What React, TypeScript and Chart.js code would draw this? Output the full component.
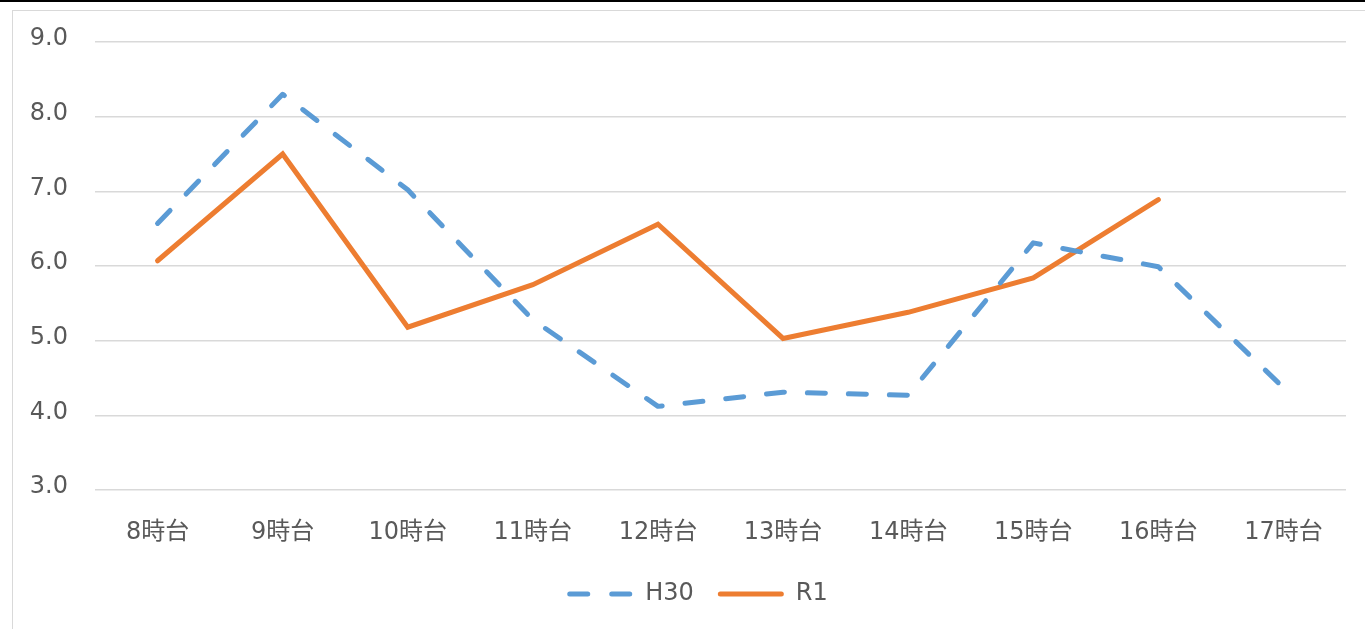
import React, { useEffect, useRef } from "react";
import { Chart, registerables } from "chart.js";

Chart.register(...registerables);

const categories = ["8時台", "9時台", "10時台", "11時台", "12時台", "13時台", "14時台", "15時台", "16時台", "17時台"];
const h30Values = [6.57, 8.3, 7.02, 5.28, 4.12, 4.31, 4.27, 6.31, 5.99, 4.37];
const r1Values: (number | null)[] = [6.07, 7.5, 5.18, 5.75, 6.56, 5.03, 5.38, 5.84, 6.89, null];
const seriesNames = ["H30", "R1"];
const yMin = 3;
const yMax = 9;

const FONT = "'DejaVu Sans', 'Noto Sans CJK JP', sans-serif";
const TEXT = "#595959";
const BLUE = "#5B9BD5";
const ORANGE = "#ED7D31";
const FS = 24;

const legendPlugin = {
  id: "customLegend",
  afterDraw(chart: any) {
    const ctx = chart.ctx;
    const items = chart.data.datasets.map((d: any) => ({
      label: d.label,
      color: d.borderColor,
      dash: d.borderDash || [],
    }));
    ctx.save();
    ctx.font = `${FS}px ${FONT}`;
    const lineW = 66;
    const gap = 12;
    const itemGap = 24;
    let total = 0;
    items.forEach((it: any, i: number) => {
      total += lineW + gap + ctx.measureText(it.label).width + (i < items.length - 1 ? itemGap : 0);
    });
    let x = chart.width / 2 - total / 2;
    const y = 584;
    items.forEach((it: any) => {
      ctx.beginPath();
      ctx.strokeStyle = it.color;
      ctx.lineWidth = 5;
      ctx.lineCap = "round";
      ctx.setLineDash(it.dash.length ? [18, 24] : []);
      ctx.moveTo(x + 2.5, y);
      ctx.lineTo(x + lineW - 2.5, y);
      ctx.stroke();
      ctx.setLineDash([]);
      x += lineW + gap;
      ctx.fillStyle = TEXT;
      ctx.textBaseline = "middle";
      ctx.textAlign = "left";
      ctx.fillText(it.label, x, y);
      x += ctx.measureText(it.label).width + itemGap;
    });
    ctx.restore();
  },
};

export default function App() {
  const canvasRef = useRef<HTMLCanvasElement | null>(null);

  useEffect(() => {
    document.body.style.margin = "0";
    const canvas = canvasRef.current;
    if (!canvas) return;
    const chart = new Chart(canvas, {
      type: "line",
      data: {
        labels: categories,
        datasets: [
          {
            label: seriesNames[0],
            data: h30Values,
            borderColor: BLUE,
            backgroundColor: BLUE,
            borderWidth: 5,
            borderDash: [18, 23],
            borderCapStyle: "round",
            borderJoinStyle: "round",
            pointRadius: 0,
            tension: 0,
            fill: false,
          },
          {
            label: seriesNames[1],
            data: r1Values,
            borderColor: ORANGE,
            backgroundColor: ORANGE,
            borderWidth: 5,
            borderCapStyle: "round",
            borderJoinStyle: "miter",
            pointRadius: 0,
            tension: 0,
            fill: false,
            spanGaps: false,
          },
        ],
      },
      options: {
        animation: false,
        responsive: false,
        maintainAspectRatio: false,
        layout: { padding: { left: 10, right: 37, top: 32, bottom: 100 } },
        plugins: {
          legend: { display: false },
          tooltip: { enabled: false },
          title: { display: false },
        },
        scales: {
          x: {
            type: "category",
            offset: true,
            grid: { display: false, drawTicks: false },
            border: { display: false },
            ticks: {
              color: TEXT,
              font: { family: FONT, size: FS },
              padding: 28,
              maxRotation: 0,
              autoSkip: false,
            },
            afterFit: (scale: any) => {
              scale.height = 60;
              scale.paddingLeft = 0;
              scale.paddingRight = 0;
            },
          },
          y: {
            min: yMin,
            max: yMax,
            grid: { color: "#D9D9D9", lineWidth: 1.5, drawTicks: false },
            border: { display: false },
            ticks: {
              stepSize: 1,
              color: TEXT,
              font: { family: FONT, size: FS },
              padding: 27,
              labelOffset: -3,
              callback: (v: any) => Number(v).toFixed(1),
            },
            afterFit: (scale: any) => {
              scale.width = 73;
              scale.paddingTop = 0;
              scale.paddingBottom = 0;
            },
          },
        },
      },
      plugins: [legendPlugin],
    });
    return () => chart.destroy();
  }, []);

  return (
    <div style={{ position: "fixed", left: 0, top: 0, width: 1365, height: 629, overflow: "hidden", background: "#fff" }}>
      <div style={{ position: "absolute", left: 0, top: 0, width: 1365, height: 2, background: "#000" }} />
      <div
        style={{
          position: "absolute",
          left: 12,
          top: 10,
          width: 1400,
          height: 700,
          border: "1.5px solid #D9D9D9",
          boxSizing: "border-box",
        }}
      />
      <canvas
        ref={canvasRef}
        width={1371}
        height={640}
        style={{ position: "absolute", left: 12, top: 10, width: 1371, height: 640 }}
      />
    </div>
  );
}
